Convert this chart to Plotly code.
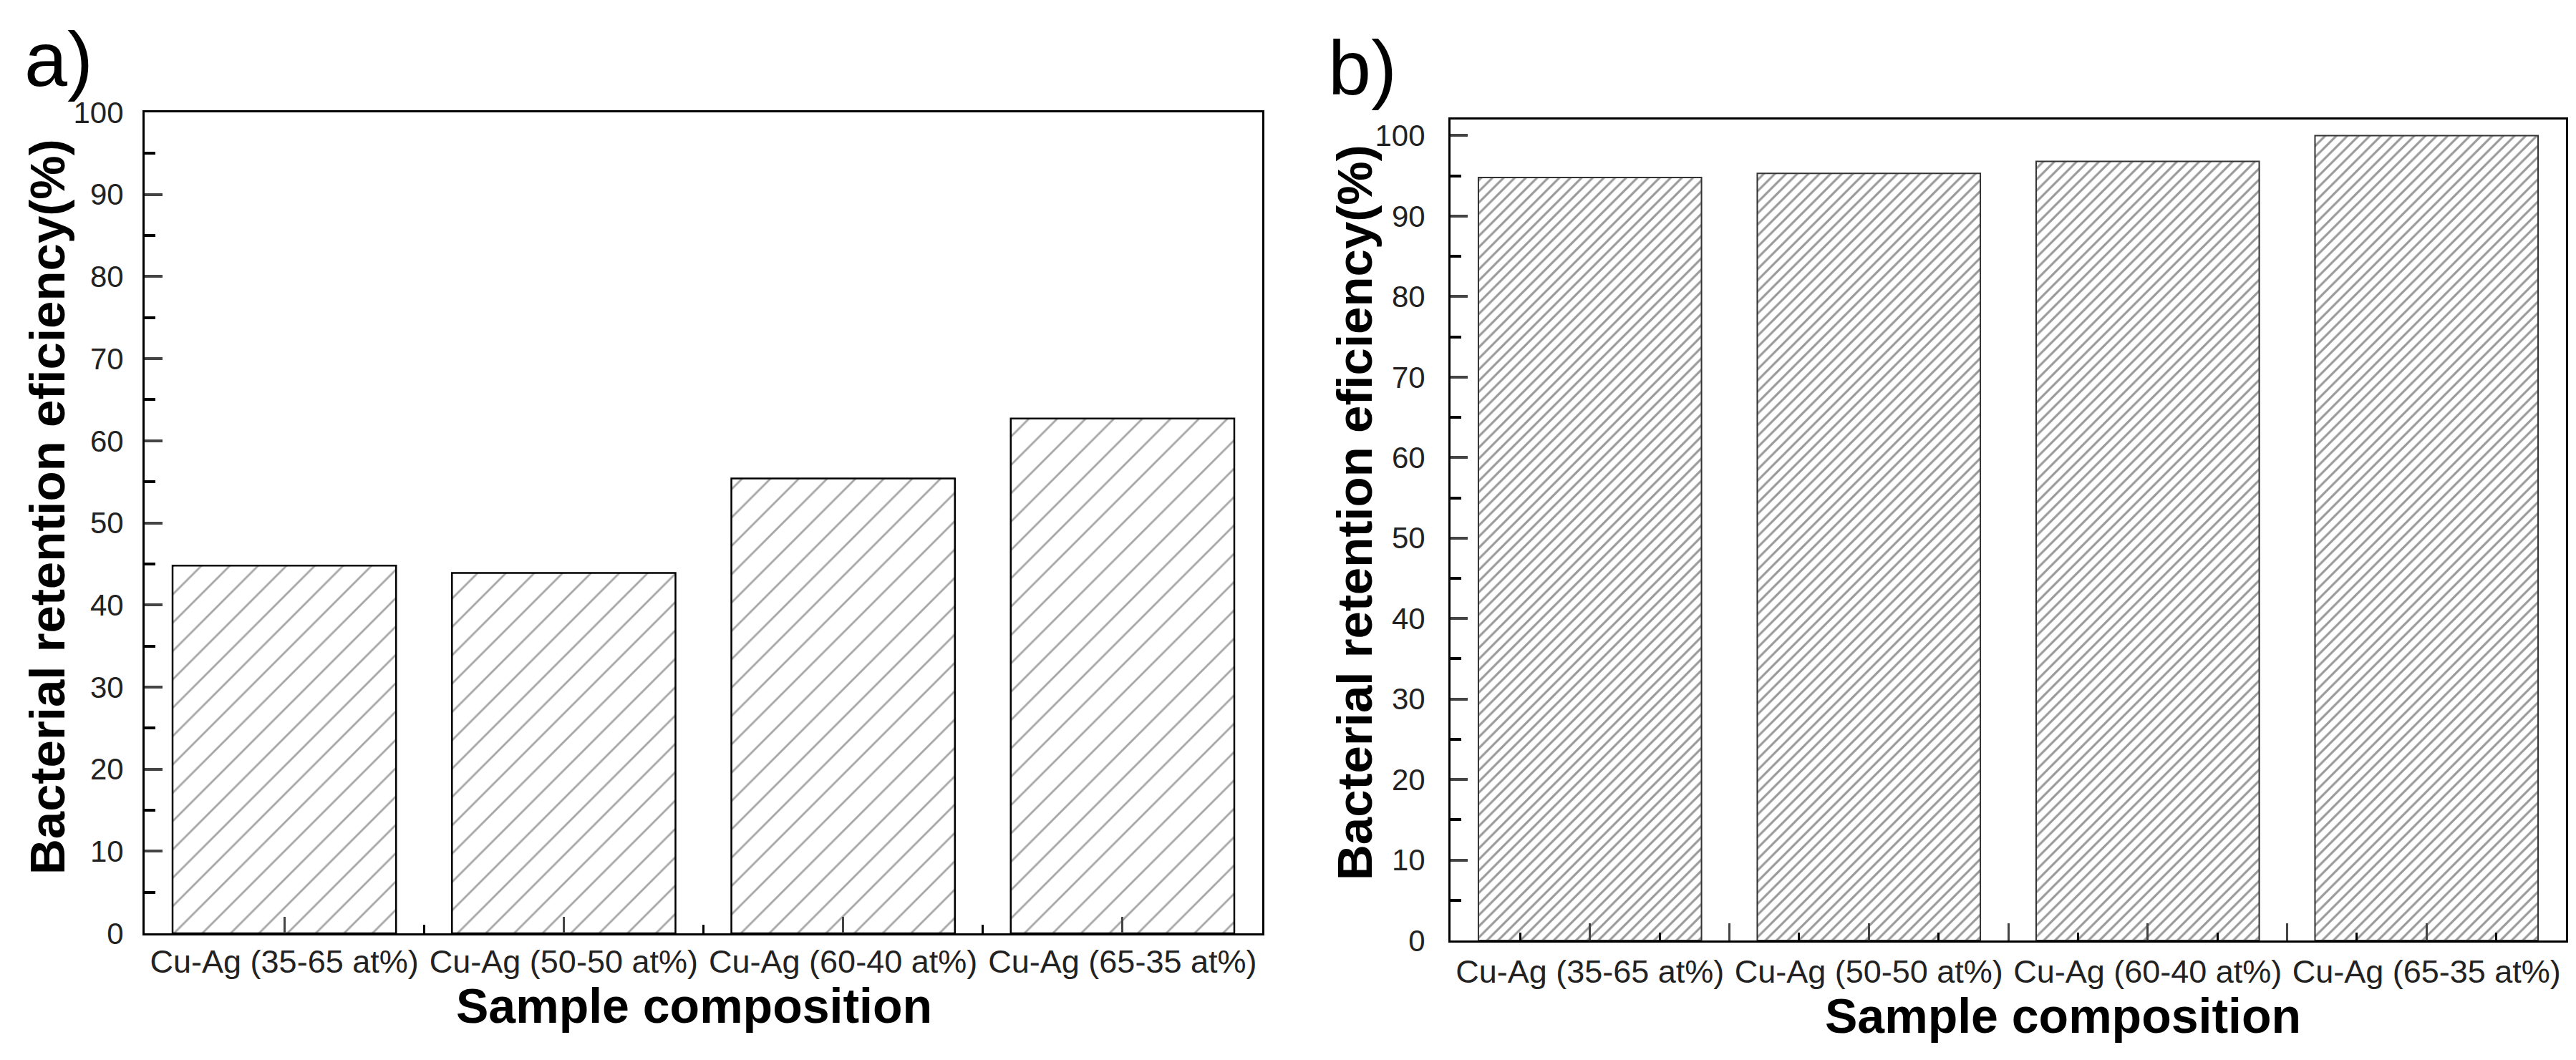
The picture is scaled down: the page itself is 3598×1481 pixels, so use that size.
import plotly.graph_objects as go

# ---- data ----
categories = ["Cu-Ag (35-65 at%)", "Cu-Ag (50-50 at%)", "Cu-Ag (60-40 at%)", "Cu-Ag (65-35 at%)"]
positions = [1, 2, 3, 4]
values_a = [44.8, 43.9, 55.4, 62.7]
values_b = [94.8, 95.3, 96.8, 100.0]
y_ticks = [0, 10, 20, 30, 40, 50, 60, 70, 80, 90, 100]
y_title = "Bacterial retention eficiency(%)"
x_title = "Sample composition"

W, H = 3598, 1481
FONT = "Liberation Sans, Arial, sans-serif"


def px(x):
    return x / W


def py(y):
    return 1 - y / H


fig = go.Figure()

fig.add_trace(go.Bar(
    x=positions, y=values_a, width=0.8, xaxis="x", yaxis="y",
    marker=dict(color="white", line=dict(color="black", width=2.5),
                pattern=dict(shape="/", size=28, solidity=0.1, fgcolor="#4d4d4d", bgcolor="white")),
    showlegend=False,
))
fig.add_trace(go.Bar(
    x=positions, y=values_b, width=0.8, xaxis="x2", yaxis="y2",
    marker=dict(color="white", line=dict(color="#333333", width=2),
                pattern=dict(shape="/", size=11, solidity=0.28, fgcolor="#333333", bgcolor="white")),
    showlegend=False,
))

axis_common = dict(showline=True, linecolor="black", linewidth=3, mirror=True,
                   ticks="inside", showgrid=False, zeroline=False, automargin=False,
                   tickfont=dict(family=FONT, size=42, color="#222222"))

half_vals = [1, 1.5, 2, 2.5, 3, 3.5, 4]
half_text = [categories[0], "", categories[1], "", categories[2], "", categories[3]]
xfont = dict(family=FONT, size=45, color="#222222")

fig.update_layout(
    width=W, height=H, margin=dict(l=0, r=0, t=0, b=0, pad=0),
    paper_bgcolor="white", plot_bgcolor="white",
    xaxis=dict(axis_common, domain=[px(194), px(1755)], range=[0.5, 4.5],
               tickmode="array", tickvals=positions, ticktext=categories, tickfont=xfont,
               ticklen=23, tickwidth=2.5, ticklabelstandoff=-2,
               minor=dict(tickmode="array", tickvals=[1.5, 2.5, 3.5], ticklen=12, tickwidth=2.5,
                          ticks="inside", tickcolor="black"),
               anchor="y"),
    yaxis=dict(axis_common, domain=[py(1296), py(149)], range=[0, 100],
               tickmode="array", tickvals=y_ticks, ticklen=25, tickwidth=3.5,
               minor=dict(dtick=5, tick0=0, ticklen=15, tickwidth=3.5, ticks="inside", tickcolor="black"),
               anchor="x", ticklabelstandoff=18),
    xaxis2=dict(axis_common, domain=[px(2018), px(3576)], range=[0.5, 4.5],
                tickmode="array", tickvals=half_vals, ticktext=half_text, tickfont=xfont,
                ticklen=24, tickwidth=2.5, ticklabelstandoff=2,
                minor=dict(tickmode="array", tickvals=[0.75, 1.25, 1.75, 2.25, 2.75, 3.25, 3.75, 4.25],
                           ticklen=11, tickwidth=2.5, ticks="inside", tickcolor="black"),
                anchor="y2"),
    yaxis2=dict(axis_common, domain=[py(1306), py(159)], range=[0, 102],
                tickmode="array", tickvals=y_ticks, ticklen=24, tickwidth=3.5,
                minor=dict(dtick=5, tick0=0, ticklen=15, tickwidth=3.5, ticks="inside", tickcolor="black"),
                anchor="x2", ticklabelstandoff=24),
)


def note(text, x, y, size, bold=False, angle=0):
    f = dict(family=FONT, size=size, color="black")
    if bold:
        f["weight"] = "bold"
    return dict(text=text, x=px(x), y=py(y), xref="paper", yref="paper", showarrow=False,
                xanchor="center", yanchor="middle", textangle=angle, font=f)


ann = [
    note("a)", 74, 74, 108),
    note("b)", 1895, 86, 108),
    note(y_title, 58, 700, 69, bold=True, angle=-90),
    note(y_title, 1884, 708, 69, bold=True, angle=-90),
    note(x_title, 961, 1397, 68, bold=True),
    note(x_title, 2873, 1411, 68, bold=True),
]
fig.update_layout(annotations=ann)

fig.write_html("out.html")
